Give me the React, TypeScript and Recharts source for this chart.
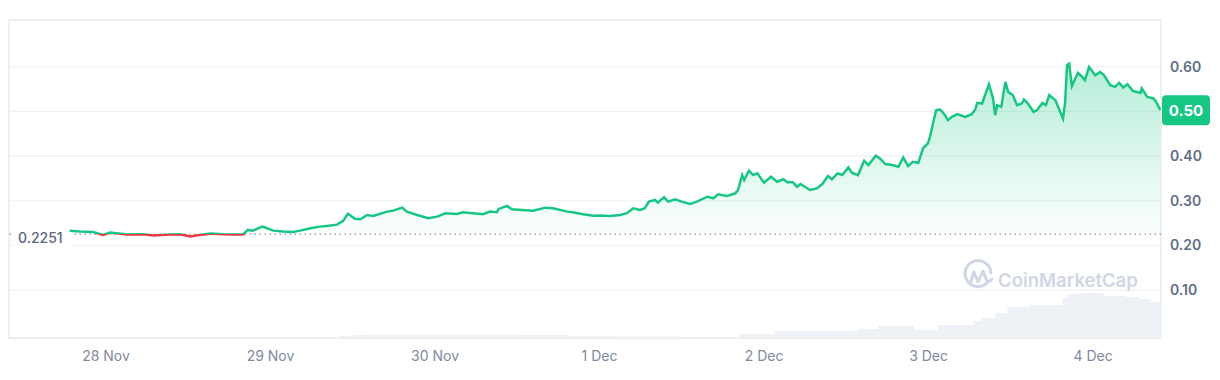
import { ComposedChart, Line, Area, XAxis, YAxis, CartesianGrid, ReferenceLine, ReferenceArea } from 'recharts';

// hours since 28 Nov 00:00
const hours = [
  -5.3, -3.8, -1.9, -0.4, 0.6, 3.1, 5.4, 6.9, 9.3, 10.8,
  12.3, 13.7, 15.2, 17.1, 18.5, 20.0, 20.7, 21.4, 22.8, 23.5,
  24.4, 25.8, 27.3, 28.3, 29.8, 31.2, 32.2, 33.7, 34.6, 35.3,
  36.3, 37.1, 38.1, 39.0, 41.0, 41.9, 43.2, 43.9, 45.4, 47.0,
  48.3, 49.5, 51.2, 52.1, 53.5, 55.0, 56.0, 57.0, 57.3, 58.5,
  59.2, 60.7, 62.3, 64.1, 65.2, 67.3, 68.1, 69.6, 71.1, 72.1,
  73.5, 75.0, 76.0, 76.9, 77.9, 78.6, 79.2, 80.1, 80.5, 81.4,
  82.0, 83.0, 84.0, 85.2, 86.2, 87.7, 88.6, 89.3, 90.6, 91.8,
  92.2, 92.8, 93.1, 93.8, 94.4, 95.0, 96.0, 97.0, 97.9, 98.8,
  99.4, 100.2, 100.8, 101.3, 102.7, 103.7, 104.5, 105.3, 105.9, 106.7,
  107.4, 108.3, 108.8, 109.7, 110.6, 111.2, 112.3, 112.9, 113.7, 114.7,
  115.6, 116.3, 117.0, 117.7, 118.5, 119.2, 119.9, 120.2, 120.7, 121.1,
  121.7, 122.4, 122.8, 123.4, 124.2, 125.3, 126.3, 126.8, 127.1, 127.8,
  128.4, 128.8, 129.4, 129.7, 130.0, 130.6, 131.2, 131.6, 132.3, 132.9,
  133.6, 133.9, 134.5, 135.3, 135.8, 136.6, 137.1, 137.6, 138.5, 139.2,
  139.6, 139.9, 140.2, 140.5, 140.9, 141.4, 141.8, 142.4, 142.8, 143.4,
  144.3, 145.0, 145.6, 146.5, 147.2, 147.8, 148.4, 149.0, 149.8, 150.9,
  151.1, 151.9, 152.8, 153.2, 153.8,
];

const prices = [
  0.233, 0.231, 0.230, 0.2235, 0.2286, 0.2245, 0.225, 0.222, 0.2245, 0.225,
  0.2197, 0.2235, 0.2265, 0.225, 0.2245, 0.2245, 0.2346, 0.233, 0.242, 0.2384,
  0.233, 0.231, 0.230, 0.233, 0.2384, 0.242, 0.2436, 0.2465, 0.255, 0.271,
  0.2596, 0.2585, 0.268, 0.266, 0.2756, 0.2778, 0.2845, 0.2756, 0.268, 0.2607,
  0.2644, 0.272, 0.2704, 0.2742, 0.272, 0.2697, 0.2756, 0.2742, 0.2816, 0.2883,
  0.2809, 0.2793, 0.2778, 0.2845, 0.2831, 0.2756, 0.2742, 0.2697, 0.2666, 0.267,
  0.266, 0.268, 0.272, 0.2831, 0.2793, 0.2831, 0.2979, 0.3017, 0.2957, 0.3077,
  0.2979, 0.303, 0.2979, 0.2927, 0.2979, 0.309, 0.3055, 0.3144, 0.3106, 0.3166,
  0.324, 0.3575, 0.3464, 0.3672, 0.3575, 0.3613, 0.3404, 0.3538, 0.3426, 0.348,
  0.3412, 0.3412, 0.3314, 0.3374, 0.324, 0.3277, 0.3374, 0.3553, 0.348, 0.3613,
  0.3575, 0.3747, 0.3627, 0.3575, 0.3895, 0.3799, 0.4007, 0.3948, 0.3821, 0.3799,
  0.3761, 0.397, 0.3776, 0.3873, 0.385, 0.418, 0.4283, 0.4432, 0.4767, 0.5028,
  0.5043, 0.4916, 0.4804, 0.4879, 0.4939, 0.4879, 0.4939, 0.5043, 0.5191, 0.5177,
  0.5437, 0.5609, 0.529, 0.4916, 0.514, 0.5102, 0.5661, 0.5437, 0.5363, 0.514,
  0.5177, 0.5266, 0.5177, 0.499, 0.5028, 0.5191, 0.514, 0.5363, 0.5251, 0.499,
  0.4842, 0.5177, 0.6034, 0.6071, 0.5564, 0.5736, 0.5862, 0.5773, 0.5698, 0.5996,
  0.581, 0.5884, 0.581, 0.5587, 0.555, 0.5639, 0.5535, 0.5609, 0.546, 0.5415,
  0.5513, 0.5326, 0.529, 0.5214, 0.5028,
];

// volume (M), step buckets
const volHours = [
  28.3, 34.1, 36.0, 38.1, 60.4, 67.4, 73.8, 79.1, 83.9, 92.4,
  97.6, 109.7, 112.6, 117.9, 121.4, 126.6, 127.7, 129.7, 131.5, 134.8,
  139.5, 140.2, 142.1, 145.5, 148.7, 150.9, 152.4, 153.9,
];
const volumes = [
  1, 2, 3, 3.5, 3, 2, 1.5, 1.5, 1, 4,
  7, 9, 12, 8, 13, 17, 20, 25, 31, 33,
  40, 44, 45, 42, 41, 39, 36, 33,
];

const dayTicks = [0, 24, 48, 72, 96, 120, 144];
const dayLabels = ['28 Nov', '29 Nov', '30 Nov', '1 Dec', '2 Dec', '3 Dec', '4 Dec'];
const priceTicks = [0.1, 0.2, 0.3, 0.4, 0.5, 0.6];
const openPrice = 0.2251;

const GREEN = '#16c784';
const RED = '#ea3943';
const X_DOMAIN: [number, number] = [-14.15, 153.9];
const Y_DOMAIN: [number, number] = [-0.0074, 0.7047];

const priceData = hours.map((t, i) => ({ t, p: prices[i] }));
const volData = volHours.map((t, i) => ({ t, v: volumes[i] }));
const lastPrice = prices[prices.length - 1];
const maxP = Math.max(...prices);
const minP = Math.min(...prices);
const split = (maxP - openPrice) / (maxP - minP);

// the current-price badge sits where the 0.50 tick would be
const formatPrice = (v: number) => (v.toFixed(2) === lastPrice.toFixed(2) ? '' : v.toFixed(2));

const OpenLabel = ({ viewBox }: any) => (
  <g>
    <rect x={viewBox.x + 4} y={viewBox.y - 10} width={58} height={22} fill="#fff" />
    <text x={viewBox.x + 9} y={viewBox.y + 3} dominantBaseline="central" fill="#58667e" fontSize={14} fontWeight={500}>
      {openPrice.toFixed(4)}
    </text>
  </g>
);

const Badge = ({ viewBox }: any) => {
  const x = viewBox.x + viewBox.width;
  return (
    <g>
      <rect x={x + 1} y={viewBox.y - 15} width={48} height={30} rx={4} fill={GREEN} />
      <text x={x + 25} y={viewBox.y} textAnchor="middle" dominantBaseline="central" fill="#fff" fontSize={15} fontWeight={700}>
        {lastPrice.toFixed(2)}
      </text>
    </g>
  );
};

const Watermark = () => (
  <svg width={210} height={40} style={{ position: 'absolute', left: 946, top: 246, pointerEvents: 'none' }}>
    <g fill="none" stroke="#cfd6e4" strokeWidth={3} strokeLinecap="round" strokeLinejoin="round">
      <path d="M 33 29 A 13 13 0 1 1 37 19" />
      <path d="M 16 30 L 20 18 L 24 28 L 29 17 L 32 25 Q 34 30 38 25" />
    </g>
    <text x={44} y={26} dominantBaseline="central" fill="#cfd6e4" fontSize={18.5} fontWeight={600}>
      CoinMarketCap
    </text>
  </svg>
);

export default function App() {
  return (
    <div style={{ position: 'relative', width: 1212, height: 372, fontFamily: 'Inter, sans-serif' }}>
      <ComposedChart width={1212} height={372} margin={{ top: 12, right: 0, bottom: 0, left: 1 }}>
        <defs>
          <linearGradient id="lineGrad" x1="0" y1="0" x2="0" y2="1">
            <stop offset={split} stopColor={GREEN} />
            <stop offset={split} stopColor={RED} />
          </linearGradient>
          <linearGradient id="fillGrad" x1="0" y1="0" x2="0" y2="1">
            <stop offset="0%" stopColor={GREEN} stopOpacity={0.32} />
            <stop offset="100%" stopColor={GREEN} stopOpacity={0.01} />
          </linearGradient>
        </defs>
        <CartesianGrid vertical={false} stroke="#eff1f3" strokeWidth={1.2} yAxisId="price" />
        <XAxis
          type="number"
          dataKey="t"
          domain={X_DOMAIN}
          allowDataOverflow
          ticks={dayTicks}
          tickFormatter={(v: number) => dayLabels[dayTicks.indexOf(v)]}
          axisLine={false}
          tickLine={false}
          tickSize={0}
          tickMargin={13}
          height={42}
          tick={{ fill: '#808a9d', fontSize: 14 }}
        />
        <YAxis
          yAxisId="price"
          orientation="right"
          domain={Y_DOMAIN}
          allowDataOverflow
          ticks={priceTicks}
          tickFormatter={formatPrice}
          axisLine={false}
          tickLine={false}
          tickSize={0}
          tickMargin={9}
          width={59}
          tick={{ fill: '#616e85', fontSize: 14, fontWeight: 600 }}
        />
        <YAxis yAxisId="vol" hide domain={[0, 318]} />
        <ReferenceArea
          yAxisId="price"
          x1={X_DOMAIN[0]}
          x2={X_DOMAIN[1]}
          y1={Y_DOMAIN[0]}
          y2={Y_DOMAIN[1]}
          fill="none"
          stroke="#e8eaed"
          strokeWidth={1.5}
        />
        <Area
          data={volData}
          yAxisId="vol"
          dataKey="v"
          type="stepAfter"
          fill="#eef1f5"
          fillOpacity={1}
          stroke="none"
          isAnimationActive={false}
        />
        <ReferenceLine yAxisId="price" y={openPrice} stroke="#9ea6b4" strokeWidth={1.5} strokeDasharray="1.5 3.5" label={<OpenLabel />} />
        <Area
          data={priceData}
          yAxisId="price"
          dataKey="p"
          type="linear"
          baseValue={openPrice}
          fill="url(#fillGrad)"
          fillOpacity={1}
          stroke="none"
          isAnimationActive={false}
        />
        <Line
          data={priceData}
          yAxisId="price"
          dataKey="p"
          type="linear"
          stroke="url(#lineGrad)"
          strokeWidth={2.5}
          dot={false}
          isAnimationActive={false}
        />
        <ReferenceLine yAxisId="price" y={lastPrice} stroke="none" label={<Badge />} />
      </ComposedChart>
      <Watermark />
    </div>
  );
}
